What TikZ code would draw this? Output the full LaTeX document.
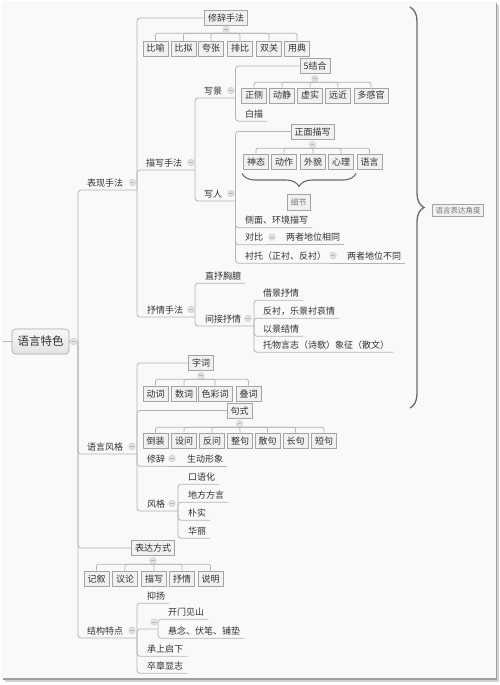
\documentclass[tikz,border=0pt]{standalone}
\usepackage{fontspec}
\setmainfont{Noto Sans CJK SC}
\usetikzlibrary{decorations.pathreplacing}
\definecolor{txt}{HTML}{303030}
\definecolor{linec}{HTML}{B4B4B4}
\definecolor{boxd}{HTML}{A4A4A4}
\definecolor{boxf}{HTML}{F1F1F1}
\definecolor{foldf}{HTML}{E2E2E2}
\definecolor{foldd}{HTML}{D2D2D2}
\definecolor{foldm}{HTML}{B6B6B6}
\definecolor{brc}{HTML}{6A6A6A}
\definecolor{paper}{HTML}{F9F9F9}
\definecolor{gtxt}{HTML}{7C7C7C}
\newcommand\myfs[1]{\fontsize{#1}{#1}\selectfont}
\tikzset{
  conn/.style={draw=linec, line width=0.8pt, rounded corners=3pt},
  rowc/.style={draw=linec, line width=0.8pt, rounded corners=2pt},
  ul/.style={font=\myfs{9}, text=txt, inner xsep=4pt, inner ysep=3pt, text height=8pt, text depth=1pt, anchor=west},
  bx/.style={font=\myfs{9}, text=txt, draw=boxd, fill=boxf, line width=0.6pt, inner xsep=3.5pt, inner ysep=3pt, text height=8pt, text depth=1pt},
  fold/.style={circle, minimum size=6.5pt, inner sep=0pt, fill=foldf, draw=foldd, line width=0.4pt,
    path picture={\draw[foldm, line width=0.6pt] ([xshift=-1.6pt]path picture bounding box.center) -- ([xshift=1.6pt]path picture bounding box.center);}},
  bracestyle/.style={draw=brc, line width=1.1pt, decorate},
}
\begin{document}
\begin{tikzpicture}[x=1pt, y=-1pt]
\useasboundingbox (0,0) rectangle (500,685);
% paper
\fill[white] (0,0) rectangle (500,685);
\fill[paper] (1,1) rectangle (496,678);
\draw[gray!35, line width=2.5pt] (498,5) -- (498,680.5) -- (5,680.5);
\draw[gray!75, line width=1.1pt] (496.8,3) -- (496.8,679) -- (3,679);

% ---------- root ----------
\node[draw=gray!70, rounded corners=3.5pt, top color=gray!6, bottom color=gray!22, line width=0.6pt,
      font=\myfs{11.5}, text=txt, minimum width=57pt, minimum height=25pt, inner sep=0pt] (root) at (40.5,341.5) {语言特色};
\coordinate (rootL) at (3,341.5);
\coordinate (jRoot) at (78,341.5);
\node[fold] (fRoot) at (73.5,341.5) {};

% ---------- level 1 ----------
\node[ul] (biaoxian) at (83,182.5) {表现手法};
\coordinate (jBiaoxian) at (137,190);
\node[fold] (fBiaoxian) at (132.5,182.5) {};
\node[ul] (yuyan) at (83,446.5) {语言风格};
\coordinate (jYuyan) at (137,454);
\node[fold] (fYuyan) at (132,446.5) {};
\node[bx] (biaoda) at (153,548) {表达方式};
\node[fold] (fBiaoda) at (153,560.75) {};
\node[ul] (jiegou) at (83,630.5) {结构特点};
\coordinate (jJiegou) at (137,638);
\node[fold] (fJiegou) at (132,630.5) {};

% ---------- 表现手法 ----------
\node[bx] (xiuci) at (226,18) {修辞手法};
\node[fold] (fXiuci) at (226,29.75) {};
\node[bx] (biyu) at (155.5,48.5) {比喻};
\node[bx] (bini) at (183.5,48.5) {比拟};
\node[bx] (kuazhang) at (211,48.5) {夸张};
\node[bx] (paibi) at (240,48.5) {排比};
\node[bx] (shuangguan) at (269,48.5) {双关};
\node[bx] (yongdian) at (297,48.5) {用典};

\node[ul] (miaoxie) at (142,162.5) {描写手法};
\coordinate (jMiaoxie) at (195,170);
\node[fold] (fMiaoxie) at (191,162.5) {};
\node[ul] (shuqing) at (143,309.5) {抒情手法};
\coordinate (jShuqing) at (195,317);
\node[fold] (fShuqing) at (191,309.5) {};

% 写景
\node[ul] (xiejing) at (200,90.5) {写景};
\coordinate (jXiejing) at (235.5,98);
\node[fold] (fXiejing) at (231,90.5) {};
\node[bx] (wujiehe) at (315,66) {5结合};
\node[fold] (fWujiehe) at (315,78.75) {};
\node[bx] (zhengce) at (254,95.5) {正侧};
\node[bx] (dongjing) at (282,95.5) {动静};
\node[bx] (xushi) at (310,95.5) {虚实};
\node[bx] (yuanjin) at (338,95.5) {远近};
\node[bx] (duoganguan) at (371,95.5) {多感官};
\node[ul] (baimiao) at (241,113.5) {白描};

% 写人
\node[ul] (xieren) at (200,193.5) {写人};
\coordinate (jXieren) at (235.5,201);
\node[fold] (fXieren) at (231,193.5) {};
\node[bx] (zhengmian) at (312.5,131.5) {正面描写};
\node[fold] (fZhengmian) at (312.5,144.75) {};
\node[bx] (shentai) at (256,161.5) {神态};
\node[bx] (dongzuo) at (284,161.5) {动作};
\node[bx] (waimao) at (313,161.5) {外貌};
\node[bx] (xinli) at (341,161.5) {心理};
\node[bx] (yuyan2) at (369.5,161.5) {语言};
\coordinate (brL) at (242,173.5);
\coordinate (brR) at (356,173.5);
\node[bx, text=gtxt, font=\myfs{8}, minimum height=16pt] (xijie) at (298.5,202) {细节};
\node[ul] (cemian) at (241,220) {侧面、环境描写};
\node[ul] (duibi) at (241,237) {对比};
\node[fold] (fDuibi) at (272,237) {};
\node[ul] (xiangtong) at (282,237) {两者地位相同};
\node[ul] (chentuo) at (241,255.5) {衬托（正衬、反衬）};
\node[fold] (fChentuo) at (333,255.5) {};
\node[ul] (butong) at (343,255.5) {两者地位不同};

% 抒情手法
\node[ul] (zhishu) at (201,275.5) {直抒胸臆};
\node[ul] (jianjie) at (201,318.5) {间接抒情};
\coordinate (jJianjie) at (254,326);
\node[fold] (fJianjie) at (248,318.5) {};
\node[ul] (jiejing) at (259,292.5) {借景抒情};
\node[ul] (fanchen) at (259,310.5) {反衬，乐景衬哀情};
\node[ul] (yijing) at (259,328.5) {以景结情};
\node[ul] (tuowu) at (259,344.5) {托物言志（诗歌）象征（散文）};

% ---------- 语言风格 ----------
\node[bx] (zici) at (201,363) {字词};
\node[fold] (fZici) at (201,375.75) {};
\node[bx] (dongci) at (155.5,393.5) {动词};
\node[bx] (shuci) at (184,393.5) {数词};
\node[bx] (secaici) at (215,393.5) {色彩词};
\node[bx] (dieci) at (248.5,393.5) {叠词};
\node[bx] (jushi) at (239.5,410.5) {句式};
\node[fold] (fJushi) at (239.5,423.75) {};
\node[bx] (daozhuang) at (155.5,440.5) {倒装};
\node[bx] (shewen) at (184,440.5) {设问};
\node[bx] (fanwen) at (212,440.5) {反问};
\node[bx] (zhengju) at (240,440.5) {整句};
\node[bx] (sanju) at (267.5,440.5) {散句};
\node[bx] (changju) at (295.5,440.5) {长句};
\node[bx] (duanju) at (324,440.5) {短句};
\node[ul] (xiuci2) at (143,458.5) {修辞};
\node[fold] (fXiuci2) at (172,458.5) {};
\node[ul] (shengdong) at (183,458.5) {生动形象};
\node[ul] (fengge) at (143,503.5) {风格};
\coordinate (jFengge) at (178,511);
\node[fold] (fFengge) at (172,503.5) {};
\node[ul] (kouyu) at (184,476.5) {口语化};
\node[ul] (difang) at (184,494.5) {地方方言};
\node[ul] (pushi) at (184,512.5) {朴实};
\node[ul] (huali) at (184,530.5) {华丽};

% ---------- 表达方式 ----------
\node[bx] (jixu) at (96.5,578.5) {记叙};
\node[bx] (yilun) at (125,578.5) {议论};
\node[bx] (miaoxie2) at (154,578.5) {描写};
\node[bx] (shuqing2) at (182,578.5) {抒情};
\node[bx] (shuoming) at (210.5,578.5) {说明};

% ---------- 结构特点 ----------
\node[ul] (yiyang) at (143,595.5) {抑扬};
\coordinate (jEmpty) at (158,629);
\node[fold] (fEmpty) at (154,622) {};
\node[ul] (kaimen) at (164,611.5) {开门见山};
\node[ul] (xuannian) at (164,630.5) {悬念、伏笔、铺垫};
\node[ul] (chengshang) at (143,648.5) {承上启下};
\node[ul] (zuzhang) at (143,665.5) {卒章显志};

% ---------- right brace ----------
\coordinate (brT) at (410,7);
\coordinate (brB) at (410,408);
\node[bx, text=gtxt, font=\myfs{7.5}, text height=7pt, text depth=1pt, inner ysep=2pt, inner xsep=3pt] (jiaodu) at (458,210.5) {语言表达角度};

% ================= connectors =================
\draw[conn] (rootL) -- (root.west);
\draw[conn] (root.east) -- (jRoot);
\draw[conn] (jRoot) |- (jBiaoxian);
\draw[conn] (jRoot) |- (jYuyan);
\draw[conn] (jRoot) |- (biaoda.west);
\draw[conn] (jRoot) |- (jJiegou);

% 表现手法
\draw[conn] (jBiaoxian) |- (xiuci.west);
\draw[conn] (jBiaoxian) |- (jMiaoxie);
\draw[conn] (jBiaoxian) |- (jShuqing);
\foreach \c in {biyu,bini,kuazhang,paibi,shuangguan,yongdian}
  \draw[rowc] (fXiuci.south) -| (\c.north);

% 描写手法
\draw[conn] (jMiaoxie) |- (jXiejing);
\draw[conn] (jMiaoxie) |- (jXieren);
\draw[conn] (jXiejing) |- (wujiehe.west);
\draw[conn] (jXiejing) |- (baimiao.south east);
\foreach \c in {zhengce,dongjing,xushi,yuanjin,duoganguan}
  \draw[rowc] (fWujiehe.south) -| (\c.north);
\draw[conn] (jXieren) |- (zhengmian.west);
\foreach \c in {shentai,dongzuo,waimao,xinli,yuyan2}
  \draw[rowc] (fZhengmian.south) -| (\c.north);
\draw[bracestyle, line width=1.1pt, decoration={brace, amplitude=13pt, mirror}] (brL) -- (brR);
\draw[conn] (jXieren) |- (cemian.south east);
\draw[conn] (jXieren) |- (duibi.south east);
\draw[conn] (duibi.south east) -- (xiangtong.south east);
\draw[conn] (jXieren) |- (chentuo.south east);
\draw[conn] (chentuo.south east) -- (butong.south east);

% 抒情手法
\draw[conn] (jShuqing) |- (zhishu.south east);
\draw[conn] (jShuqing) |- (jJianjie);
\foreach \c in {jiejing,fanchen,yijing,tuowu}
  \draw[conn] (jJianjie) |- (\c.south east);

% 语言风格
\draw[conn] (jYuyan) |- (zici.west);
\foreach \c in {dongci,shuci,secaici,dieci}
  \draw[rowc] (fZici.south) -| (\c.north);
\draw[conn] (jYuyan) |- (jushi.west);
\foreach \c in {daozhuang,shewen,fanwen,zhengju,sanju,changju,duanju}
  \draw[rowc] (fJushi.south) -| (\c.north);
\draw[conn] (jYuyan) |- (xiuci2.south east);
\draw[conn] (xiuci2.south east) -- (shengdong.south east);
\draw[conn] (jYuyan) |- (jFengge);
\foreach \c in {kouyu,difang,pushi,huali}
  \draw[conn] (jFengge) |- (\c.south east);

% 表达方式
\foreach \c in {jixu,yilun,miaoxie2,shuqing2,shuoming}
  \draw[rowc] (fBiaoda.south) -| (\c.north);

% 结构特点
\draw[conn] (jJiegou) |- (yiyang.south east);
\draw[conn] (jJiegou) |- (jEmpty);
\draw[conn] (jEmpty) |- (kaimen.south east);
\draw[conn] (jEmpty) |- (xuannian.south east);
\draw[conn] (jJiegou) |- (chengshang.south east);
\draw[conn] (jJiegou) |- (zuzhang.south east);

% right brace
\draw[bracestyle, line width=1.3pt, decoration={brace, amplitude=14pt}] (brT) -- (brB);

% redraw folds on top of lines
\foreach \f in {fRoot,fBiaoxian,fYuyan,fBiaoda,fJiegou,fXiuci,fMiaoxie,fShuqing,fXiejing,fWujiehe,fXieren,fZhengmian,fDuibi,fChentuo,fJianjie,fZici,fJushi,fXiuci2,fFengge,fEmpty}
  \node[fold] at (\f) {};
\end{tikzpicture}
\end{document}
